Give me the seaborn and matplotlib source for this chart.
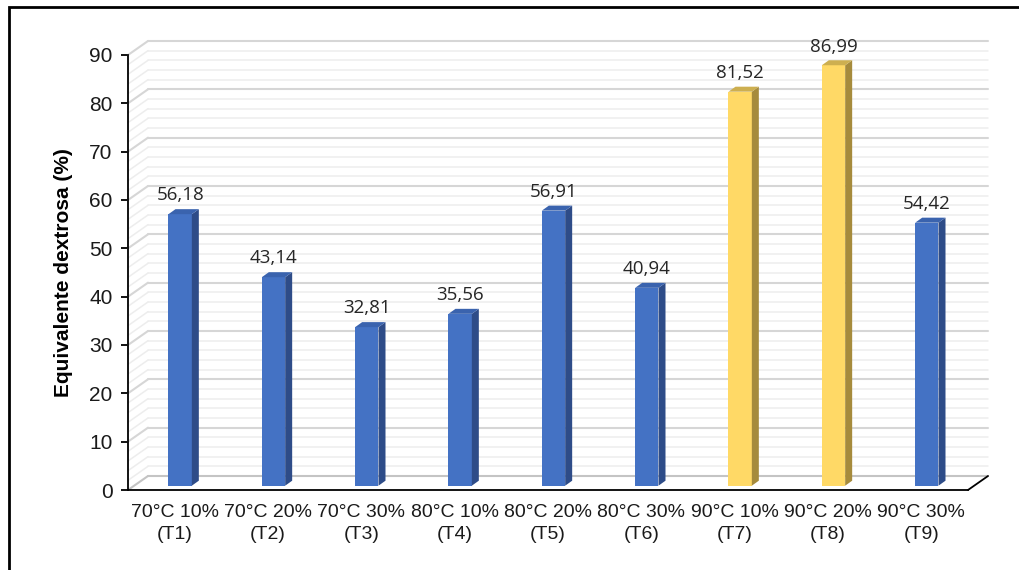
import numpy as np
import pandas as pd
import seaborn as sns
import matplotlib.pyplot as plt
from matplotlib.patches import Polygon, Rectangle

# Data
tratamientos = ["70°C 10%\n(T1)", "70°C 20%\n(T2)", "70°C 30%\n(T3)",
                "80°C 10%\n(T4)", "80°C 20%\n(T5)", "80°C 30%\n(T6)",
                "90°C 10%\n(T7)", "90°C 20%\n(T8)", "90°C 30%\n(T9)"]
equivalente = [56.18, 43.14, 32.81, 35.56, 56.91, 40.94, 81.52, 86.99, 54.42]
destacados = ["90°C 10%\n(T7)", "90°C 20%\n(T8)"]

# Colours (front, side, top) for normal and highlighted bars
azul = ("#4472C4", "#2E4C88", "#3A63AE")
amarillo = ("#FFD966", "#A68B3C", "#CDAF50")

sns.set_theme(style="white")
plt.rcParams['font.family'] = ['Liberation Sans', 'DejaVu Sans']

W, H = 1020, 570
fig = plt.figure(figsize=(W / 100, H / 100), dpi=100)
# front plane of the "3D" box in pixels
x_left, x_right, y_bottom, y_top = 128, 968, 490, 55
ax = fig.add_axes([x_left / W, 1 - y_bottom / H,
                   (x_right - x_left) / W, (y_bottom - y_top) / H])
ax.set_xlim(-0.5, 8.5)
ax.set_ylim(0, 90)

px_x = (x_right - x_left) / 9.0
px_y = (y_bottom - y_top) / 90.0

def off(dx_px, dy_px):
    return dx_px / px_x, dy_px / px_y

# depth vectors (pixels -> data units)
wall_dx, wall_dy = off(20, 14)
bar_sx, bar_sy = off(5.5, 4.3)
bar_dx, bar_dy = off(7, 5)

# back wall gridlines + left wall diagonals
for v in np.arange(0, 91, 2):
    major = v % 10 == 0
    col = "#D6D6D6" if major else "#EDEDED"
    lw = 1.5 if major else 1.1
    if v == 0:
        col = "#C4C4C4"
    ax.plot([-0.5 + wall_dx, 8.5 + wall_dx], [v + wall_dy, v + wall_dy],
            color=col, lw=lw, clip_on=False, zorder=1)
    ax.plot([-0.5, -0.5 + wall_dx], [v, v + wall_dy],
            color=col, lw=lw, clip_on=False, zorder=1)

# floor edge on the right
ax.plot([8.5, 8.5 + wall_dx], [0, wall_dy], color="black", lw=1.3,
        clip_on=False, zorder=2)

df = pd.DataFrame({"tratamiento": tratamientos, "equivalente": equivalente})
paleta = {t: (amarillo[0] if t in destacados else azul[0]) for t in tratamientos}
sns.barplot(data=df, x="tratamiento", y="equivalente", hue="tratamiento",
            palette=paleta, width=0.25, saturation=1, legend=False,
            ax=ax, zorder=3)

barras = sorted([p for p in ax.patches if isinstance(p, Rectangle)],
                key=lambda p: p.get_x())
for p, t, v in zip(barras, tratamientos, equivalente):
    cols = amarillo if t in destacados else azul
    p.set_x(p.get_x() + bar_sx)
    p.set_y(p.get_y() + bar_sy)
    p.set_clip_on(False)
    p.set_linewidth(0)
    x0 = p.get_x()
    x1 = x0 + p.get_width()
    y0 = p.get_y()
    y1 = y0 + p.get_height()
    lado = Polygon([(x1, y0), (x1 + bar_dx, y0 + bar_dy),
                    (x1 + bar_dx, y1 + bar_dy), (x1, y1)],
                   closed=True, fc=cols[1], ec="none", clip_on=False, zorder=3)
    tapa = Polygon([(x0, y1), (x1, y1), (x1 + bar_dx, y1 + bar_dy),
                    (x0 + bar_dx, y1 + bar_dy)],
                   closed=True, fc=cols[2], ec="none", clip_on=False, zorder=3)
    ax.add_patch(lado)
    ax.add_patch(tapa)
    ax.annotate(f"{v:.2f}".replace(".", ","), xy=((x0 + x1) / 2, y1),
                xytext=(0, 7), textcoords="offset points",
                ha="center", va="bottom", fontsize=13.5,
                family=["Open Sans", "DejaVu Sans"], color="#262626")

# axes styling
for s in ["top", "right"]:
    ax.spines[s].set_visible(False)
ax.spines["left"].set_color("black")
ax.spines["left"].set_linewidth(1.3)
ax.spines["bottom"].set_color("black")
ax.spines["bottom"].set_linewidth(1.3)
ax.set_yticks(np.arange(0, 91, 10))
ax.tick_params(axis="y", direction="out", length=5, width=1.3, color="black",
               left=True, pad=6, labelsize=15, labelcolor="#1a1a1a")
ax.set_xticks(range(len(tratamientos)))
ax.set_xticklabels(tratamientos, linespacing=1.4)
ax.tick_params(axis="x", length=0, pad=10, labelsize=14, labelcolor="#1a1a1a")
ax.set_xlabel("")
ax.set_ylabel("Equivalente dextrosa (%)", fontsize=15, fontweight="bold",
              color="black")
ax.yaxis.set_label_coords(-0.066, 0.5)
ax.patch.set_alpha(0)

# outer chart border
fig.add_artist(Rectangle((9 / W, -0.1), 1.2, 1.1 - 7 / H,
                         transform=fig.transFigure, fill=False,
                         ec="black", lw=2))

fig.savefig("out.png", dpi=100, facecolor="white")
